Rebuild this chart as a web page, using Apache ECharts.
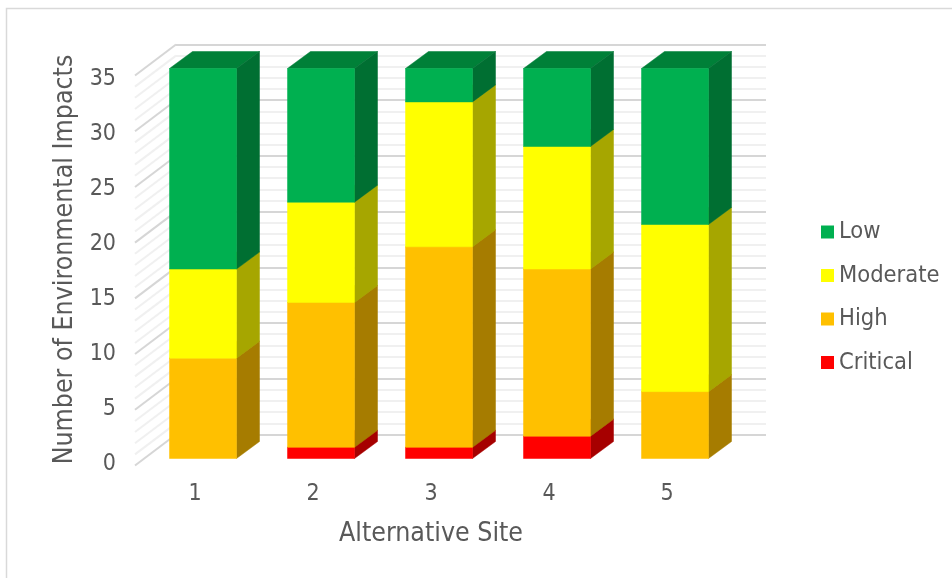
<!DOCTYPE html>
<html>
<head>
<meta charset="utf-8">
<style>html,body{margin:0;padding:0;background:#fff}#chart{width:952px;height:578px}</style>
<script src="https://cdn.jsdelivr.net/npm/echarts@6/dist/echarts.min.js"></script>
</head>
<body>
<div id="chart"></div>
<script>
// Environmental impacts per alternative site, counted by severity.
const sites = ['1', '2', '3', '4', '5'];
const critical = [0, 1, 1, 2, 0];
const high = [9, 13, 18, 15, 6];
const moderate = [8, 9, 13, 11, 15];
const low = [18, 12, 3, 7, 14];
const wallLevels = [0,1,2,3,4,5,6,7,8,9,10,11,12,13,14,15,16,17,18,19,20,21,22,23,24,25,26,27,28,29,30,31,32,33,34,35];

// Faces of each severity: front, right side, top.
const levels = [
  { name: 'Critical', values: critical, front: '#FF0000', side: '#A60000', top: '#C00000' },
  { name: 'High', values: high, front: '#FFC000', side: '#A67C00', top: '#CC9A00' },
  { name: 'Moderate', values: moderate, front: '#FFFF00', side: '#A6A600', top: '#CCCC00' },
  { name: 'Low', values: low, front: '#00B050', side: '#006F32', top: '#008038' }
];

const TEXT = '#595959';
const FONT = '"DejaVu Sans Condensed", "DejaVu Sans"';
const BAR_DX = 23, BAR_DY = 17, BAR_RATIO = 67 / 118;
const WALL_DX = 41, WALL_DY = 31;

function barItem(level) {
  return function (params, api) {
    const cx = api.coord([api.value(0), 0])[0];
    const y0 = api.coord([0, api.value(1)])[1];
    const y1 = api.coord([0, api.value(2)])[1];
    const half = api.size([1, 0])[0] * BAR_RATIO / 2;
    const l = cx - half, r = cx + half;
    const poly = (points, fill) => ({
      type: 'polygon',
      shape: { points },
      style: { fill, stroke: fill, lineWidth: 0.5 }
    });
    return {
      type: 'group',
      children: [
        poly([[l, y1], [l + BAR_DX, y1 - BAR_DY], [r + BAR_DX, y1 - BAR_DY], [r, y1]], level.top),
        poly([[r, y0], [r + BAR_DX, y0 - BAR_DY], [r + BAR_DX, y1 - BAR_DY], [r, y1]], level.side),
        poly([[l, y0], [r, y0], [r, y1], [l, y1]], level.front)
      ]
    };
  };
}

// Running totals turn each severity into a [site, from, to] segment.
const totals = sites.map(() => 0);
const barSeries = levels.map(level => {
  const data = level.values.map((v, i) => {
    const seg = [i, totals[i], totals[i] + v];
    totals[i] += v;
    return seg;
  }).filter(seg => seg[2] > seg[1]);
  return {
    name: level.name,
    type: 'custom',
    xAxisIndex: 1,
    yAxisIndex: 1,
    z: 5,
    silent: true,
    itemStyle: { color: level.front },
    renderItem: barItem(level),
    encode: { x: 0, y: [1, 2] },
    data
  };
});

const sideWall = {
  name: 'wall',
  type: 'custom',
  xAxisIndex: 0,
  yAxisIndex: 0,
  z: 1,
  silent: true,
  renderItem(params, api) {
    const v = api.value(0);
    const y = api.coord([0, v])[1];
    const x = params.coordSys.x;
    return {
      type: 'line',
      shape: { x1: x, y1: y, x2: x - WALL_DX, y2: y + WALL_DY },
      style: { stroke: v % 5 === 0 ? '#d6d6d6' : '#f0f0f0', lineWidth: 2 }
    };
  },
  encode: { y: 0 },
  data: wallLevels.map(v => [v])
};

const chart = echarts.init(document.getElementById('chart'), null, { renderer: 'canvas' });
chart.setOption({
  animation: false,
  backgroundColor: '#fff',
  textStyle: { fontFamily: FONT },
  graphic: [{
    type: 'rect',
    silent: true,
    shape: { x: 6.5, y: 8.5, width: 1000, height: 700 },
    style: { fill: 'transparent', stroke: '#d9d9d9', lineWidth: 1.5 }
  }],
  grid: [
    { left: 176, top: 44.5, width: 590, height: 390 },   // back wall
    { left: 144, top: 68.5, width: 590, height: 390 },   // front plane of the bars
    { left: 136, top: 79, width: 590, height: 385 }      // axis labels
  ],
  xAxis: [
    { gridIndex: 0, type: 'category', data: sites, axisLine: { show: false }, axisTick: { show: false }, axisLabel: { show: false }, splitLine: { show: false } },
    { gridIndex: 1, type: 'category', data: sites, show: false },
    {
      gridIndex: 2, type: 'category', data: sites,
      axisLine: { show: false }, axisTick: { show: false },
      axisLabel: { color: TEXT, fontSize: 23, fontFamily: FONT, margin: 19 },
      name: 'Alternative Site', nameLocation: 'middle', nameGap: 57,
      nameTextStyle: { color: TEXT, fontSize: 26.5, fontFamily: FONT }
    }
  ],
  yAxis: [
    {
      gridIndex: 0, type: 'value', min: 0, max: 35, interval: 5,
      axisLine: { show: false }, axisTick: { show: false }, axisLabel: { show: false },
      splitLine: { show: true, lineStyle: { color: '#d6d6d6', width: 2 } },
      minorTick: { show: false, splitNumber: 5 },
      minorSplitLine: { show: true, lineStyle: { color: '#f0f0f0', width: 2 } }
    },
    { gridIndex: 1, type: 'value', min: 0, max: 35, interval: 5, show: false },
    {
      gridIndex: 2, type: 'value', min: 0, max: 35, interval: 5,
      axisLine: { show: false }, axisTick: { show: false }, splitLine: { show: false },
      axisLabel: { color: TEXT, fontSize: 23, fontFamily: FONT, margin: 20 },
      name: 'Number of Environmental Impacts', nameLocation: 'middle', nameGap: 53, nameRotate: 90,
      nameTextStyle: { color: TEXT, fontSize: 26.5, fontFamily: FONT, padding: [0, 0, 0, 24] }
    }
  ],
  legend: {
    orient: 'vertical',
    left: 816,
    top: 214,
    icon: 'rect',
    itemWidth: 13,
    itemHeight: 13,
    itemGap: 17.5,
    selectedMode: false,
    data: ['Low', 'Moderate', 'High', 'Critical'],
    textStyle: { color: TEXT, fontSize: 23.5, fontFamily: FONT, lineHeight: 26 }
  },
  series: [sideWall].concat(barSeries)
});
</script>
</body>
</html>
